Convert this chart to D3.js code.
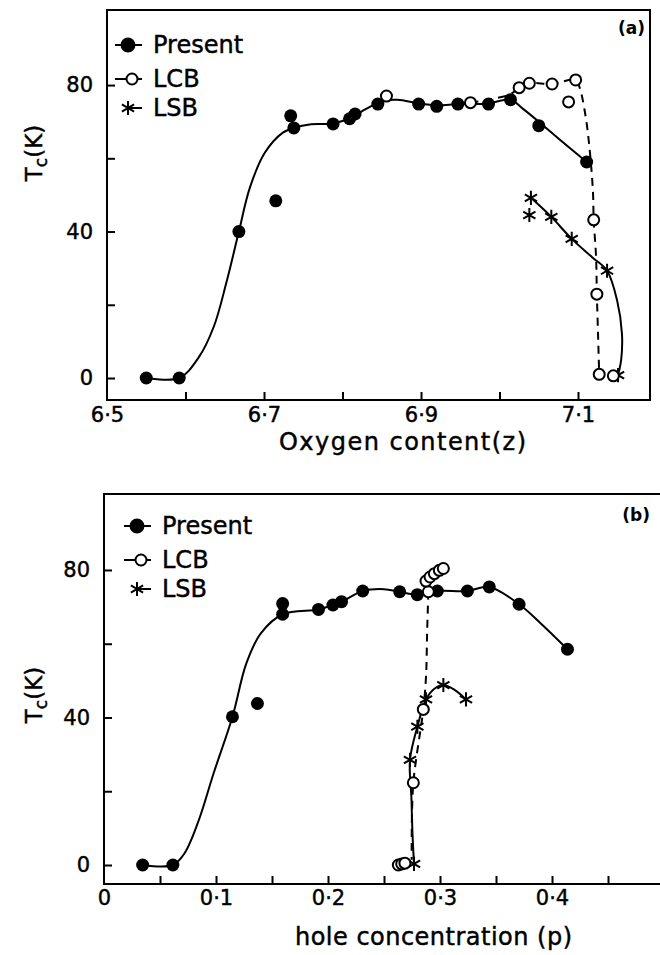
<!DOCTYPE html>
<html>
<head>
<meta charset="utf-8">
<script src="https://cdn.jsdelivr.net/npm/d3@7/dist/d3.min.js"></script>
<style>
  body { margin: 0; background: #fff; }
  text { font-family: "DejaVu Sans", sans-serif; fill: #000; }
  .heavy { stroke: #000; stroke-width: 0.45px; }
</style>
</head>
<body>
<svg id="chart" width="660" height="955"></svg>
<script>
// ---- data ----
var seriesNames = ["Present", "LCB", "LSB"];
var yTicks = [0, 20, 40, 60, 80];
var yTickLabels = [0, 40, 80];

// panel (a): Tc vs oxygen content z
var xTicksA = [6.6, 6.7, 6.8, 6.9, 7.0, 7.1];
var xTickLabelsA = [6.5, 6.7, 6.9, 7.1];
var presentA = [[6.550,0],[6.592,0],[6.668,40],[6.715,48.4],[6.734,71.6],[6.738,68.3],[6.788,69.4],
  [6.809,70.8],[6.816,72.1],[6.845,74.8],[6.897,74.8],[6.920,74.2],[6.947,74.8],[6.986,74.8],
  [7.014,76],[7.050,68.9],[7.111,59]];
var lcbA = [[6.856,77],[6.963,75.2],[7.025,79.3],[7.038,80.5],[7.067,80.3],[7.088,75.4],[7.097,81.4],
  [7.120,43.2],[7.124,22.9],[7.127,1],[7.145,0.6]];
var lsbA = [[7.040,49.2],[7.038,44.5],[7.066,44],[7.092,38],[7.137,29.3],[7.151,0.8]];
// hand-drawn guide curves
var fitPresentA = [[6.55,0],[6.592,0],[6.617,5.7],[6.636,14],[6.652,26],[6.668,40],[6.682,52],[6.701,61.5],
  [6.724,67],[6.738,68.3],[6.76,69.3],[6.788,69.5],[6.81,71],[6.83,73.5],[6.85,75.6],[6.87,76],[6.897,75],
  [6.92,74.5],[6.947,74.8],[6.986,75],[7.014,76],[7.03,73.5],[7.05,70],[7.08,64.5],[7.111,59]];
var fitLcbA = [[6.963,75.2],[6.99,76.2],[7.014,77.5],[7.025,79.3],[7.038,80.5],[7.067,80.3],[7.097,81.4],
  [7.1025,79],[7.110,71],[7.115,62],[7.119,51],[7.120,43.2],[7.123,33],[7.124,23],[7.1255,12],[7.127,1]];
var fitLsbA = [[7.040,49.2],[7.066,44],[7.092,38],[7.118,33],[7.137,29.3],[7.150,21],[7.156,12],[7.155,5],[7.151,0.8]];

// panel (b): Tc vs hole concentration p
var xTicksB = [0.05, 0.1, 0.15, 0.2, 0.25, 0.3, 0.35, 0.4, 0.45];
var xTickLabelsB = [0, 0.1, 0.2, 0.3, 0.4];
var presentB = [[0.0345,0],[0.0615,0],[0.1147,40.2],[0.137,43.8],[0.1595,70.9],[0.1595,68],[0.1915,69.3],
  [0.2044,70.5],[0.2121,71.4],[0.231,74.3],[0.264,74.1],[0.2797,73.3],[0.2976,74.3],[0.3245,74.3],
  [0.344,75.4],[0.3706,70.7],[0.4138,58.5]];
var lcbB = [[0.2628,0],[0.2658,0.3],[0.2687,0.5],[0.2762,22.3],[0.2851,42.2],[0.2896,74.1],[0.2875,77],
  [0.2911,78.1],[0.295,79],[0.2994,79.9],[0.303,80.4]];
var lsbB = [[0.2768,0.3],[0.2732,28.5],[0.2798,37.5],[0.2875,44.9],[0.303,48.8],[0.3232,44.9]];
var fitPresentB = [[0.0345,0],[0.0615,0],[0.0719,3.2],[0.0847,12.2],[0.0978,24.8],[0.1147,40.2],[0.127,54.6],
  [0.140,62.8],[0.1595,68],[0.1915,69.3],[0.2044,70.5],[0.2121,71.4],[0.231,74.3],[0.25,74.8],[0.264,74.1],
  [0.2797,73.3],[0.2976,74.3],[0.3245,74.3],[0.344,75.4],[0.3706,70.7],[0.39,65.5],[0.4138,58.5]];
var fitLcbB = [[0.2896,74.1],[0.2885,63],[0.2875,51],[0.2851,42.2],[0.2821,35.7],[0.2786,28.5],[0.2762,22.3],
  [0.2750,14.2],[0.2747,4],[0.2747,1.4]];
var fitLsbB = [[0.2768,0.3],[0.2755,8],[0.2745,18],[0.2732,28.5],[0.2798,37.5],[0.2875,44.9],[0.295,47.8],
  [0.303,48.8],[0.313,47.5],[0.3232,44.9]];

var svg = d3.select("#chart");

var panels = [
  { tag: "(a)", left: 107, right: 650, top: 10, bottom: 400,
    xDomain: [6.5, 7.1917], yDomain: [-6.0, 100.5],
    xTicks: xTicksA, xLabels: xTickLabelsA, xTitle: "Oxygen content(z)",
    xTitleX: 279, xTitleY: 450, xTitleLen: 247, xLabelPad: 7,
    yTitleY: 153, legendX: 128, legendY: 45, tagY: 34,
    present: presentA, lcb: lcbA, lsb: lsbA,
    fitPresent: fitPresentA, fitLcb: fitLcbA, fitLsb: fitLsbA },
  { tag: "(b)", left: 104, right: 664, top: 494, bottom: 884,
    xDomain: [0, 0.5], yDomain: [-5.15, 100.6],
    xTicks: xTicksB, xLabels: xTickLabelsB, xTitle: "hole concentration (p)",
    xTitleX: 295, xTitleY: 945, xTitleLen: 277, xLabelPad: 6,
    yTitleY: 695, legendX: 137, legendY: 526, tagY: 521,
    present: presentB, lcb: lcbB, lsb: lsbB,
    fitPresent: fitPresentB, fitLcb: fitLcbB, fitLsb: fitLsbB }
];

var star = d3.symbol().type(d3.symbolAsterisk).size(140);

function fmtX(d) {
  return d === 0 ? "0" : d.toFixed(1).replace(".", "\u00B7");
}
var fmtY = d3.format("d");

panels.forEach(drawPanel);

function drawPanel(p) {
  var x = d3.scaleLinear().domain(p.xDomain).range([p.left, p.right]);
  var y = d3.scaleLinear().domain(p.yDomain).range([p.bottom, p.top]);
  var g = svg.append("g");

  // frame
  g.append("rect")
    .attr("x", p.left).attr("y", p.top)
    .attr("width", p.right - p.left).attr("height", p.bottom - p.top)
    .attr("fill", "none").attr("stroke", "#000").attr("stroke-width", 2);

  // inward ticks
  var xt = g.append("g").attr("transform", "translate(0," + p.bottom + ")")
    .call(d3.axisBottom(x).tickValues(p.xTicks).tickSizeInner(-8).tickSizeOuter(0).tickFormat(""));
  var yt = g.append("g").attr("transform", "translate(" + p.left + ",0)")
    .call(d3.axisLeft(y).tickValues(yTicks).tickSizeInner(-8).tickSizeOuter(0).tickFormat(""));
  [xt, yt].forEach(function(a) {
    a.select(".domain").remove();
    a.selectAll("line").attr("stroke", "#000").attr("stroke-width", 2);
  });

  // tick labels
  var xl = g.append("g").attr("transform", "translate(0," + p.bottom + ")")
    .call(d3.axisBottom(x).tickValues(p.xLabels).tickSize(0).tickPadding(p.xLabelPad).tickFormat(fmtX));
  var yl = g.append("g").attr("transform", "translate(" + p.left + ",0)")
    .call(d3.axisLeft(y).tickValues(yTickLabels).tickSize(0).tickPadding(14).tickFormat(fmtY));
  [xl, yl].forEach(function(a) {
    a.select(".domain").remove();
    a.selectAll("text").attr("class", "heavy")
      .attr("font-family", "DejaVu Sans, sans-serif").attr("font-size", 21).attr("fill", "#000");
  });

  // axis titles
  g.append("text").attr("class", "heavy")
    .attr("x", p.xTitleX).attr("y", p.xTitleY)
    .attr("font-size", 24)
    .attr("textLength", p.xTitleLen).attr("lengthAdjust", "spacing")
    .text(p.xTitle);

  var yTitle = g.append("text").attr("class", "heavy")
    .attr("transform", "translate(42," + p.yTitleY + ") rotate(-90)")
    .attr("text-anchor", "middle")
    .attr("font-size", 23);
  yTitle.append("tspan").text("T");
  yTitle.append("tspan").attr("font-size", 17).attr("dy", 5).text("c");
  yTitle.append("tspan").attr("dy", -5).text("(K)");

  g.append("text")
    .attr("x", p.right > 655 ? 650 : p.right - 5).attr("y", p.tagY)
    .attr("text-anchor", "end")
    .attr("font-family", "Liberation Serif, serif").attr("font-weight", "bold").attr("font-size", 17)
    .text(p.tag);

  // curves
  var line = d3.line()
    .x(function(d) { return x(d[0]); })
    .y(function(d) { return y(d[1]); })
    .curve(d3.curveCatmullRom.alpha(0.5));

  g.append("path").datum(p.fitPresent).attr("d", line)
    .attr("fill", "none").attr("stroke", "#000").attr("stroke-width", 2);
  g.append("path").datum(p.fitLsb).attr("d", line)
    .attr("fill", "none").attr("stroke", "#000").attr("stroke-width", 2);
  g.append("path").datum(p.fitLcb).attr("d", line)
    .attr("fill", "none").attr("stroke", "#000").attr("stroke-width", 2)
    .attr("stroke-dasharray", "8,6");

  // markers
  g.selectAll(".lsb").data(p.lsb).enter().append("path")
    .attr("class", "lsb")
    .attr("d", star)
    .attr("transform", function(d) { return "translate(" + x(d[0]) + "," + y(d[1]) + ")"; })
    .attr("fill", "none").attr("stroke", "#000").attr("stroke-width", 2);

  g.selectAll(".present").data(p.present).enter().append("circle")
    .attr("class", "present")
    .attr("cx", function(d) { return x(d[0]); })
    .attr("cy", function(d) { return y(d[1]); })
    .attr("r", 6.5).attr("fill", "#000");

  g.selectAll(".lcb").data(p.lcb).enter().append("circle")
    .attr("class", "lcb")
    .attr("cx", function(d) { return x(d[0]); })
    .attr("cy", function(d) { return y(d[1]); })
    .attr("r", 5.5).attr("fill", "#fff").attr("stroke", "#000").attr("stroke-width", 2);

  // legend
  var lg = g.append("g").attr("transform", "translate(" + p.legendX + "," + p.legendY + ")");
  var rowY = [0, 34, 63];
  seriesNames.forEach(function(name, i) {
    var r = lg.append("g").attr("transform", "translate(0," + rowY[i] + ")");
    if (i === 2) {
      r.append("line").attr("x1", 0).attr("x2", 14).attr("stroke", "#000").attr("stroke-width", 2);
      r.append("path").attr("d", star).attr("fill", "none").attr("stroke", "#000").attr("stroke-width", 2);
    } else {
      r.append("line").attr("x1", -13).attr("x2", 14).attr("stroke", "#000").attr("stroke-width", 2);
      r.append("circle").attr("cx", i === 1 ? 4 : 0).attr("r", i === 1 ? 5.5 : 6.5)
        .attr("fill", i === 1 ? "#fff" : "#000")
        .attr("stroke", "#000").attr("stroke-width", 2);
    }
    r.append("text").attr("class", "heavy").attr("x", 25).attr("y", 8).attr("font-size", 24).text(name);
  });
}
</script>
</body>
</html>
